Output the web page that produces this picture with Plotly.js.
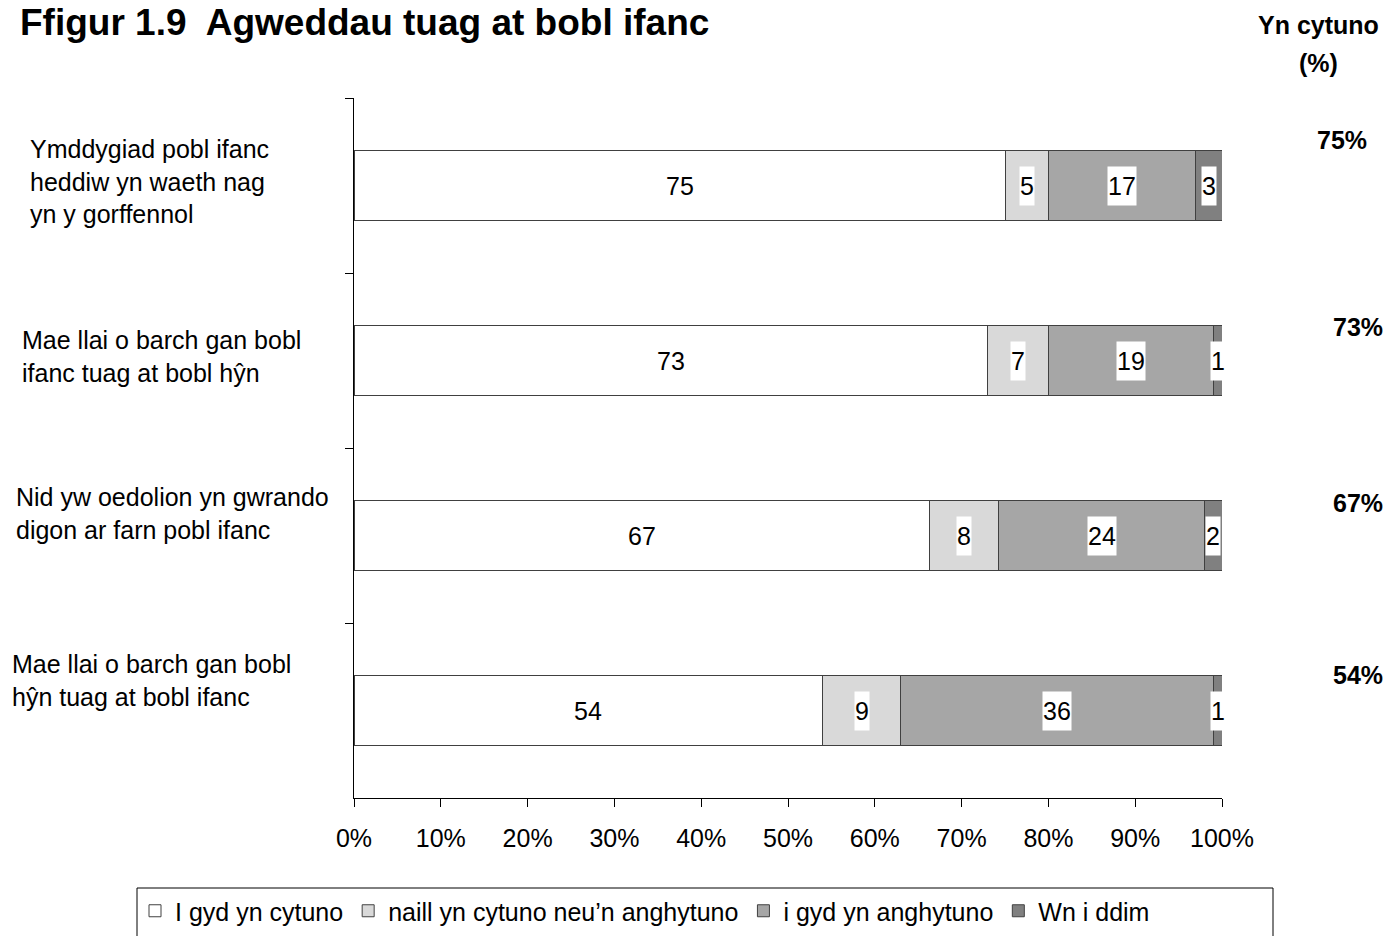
<!DOCTYPE html>
<html>
<head>
<meta charset="utf-8">
<script src="https://cdn.plot.ly/plotly-3.0.1.min.js"></script>
<style>html,body{margin:0;padding:0;background:#fff;}#chart{width:1392px;height:936px;}</style>
</head>
<body>
<div id="chart"></div>
<script>
// ---- data ----
const categories = [
  "Ymddygiad pobl ifanc<br>heddiw yn waeth nag<br>yn y gorffennol",
  "Mae llai o barch gan bobl<br>ifanc tuag at bobl hŷn",
  "Nid yw oedolion yn gwrando<br>digon ar farn pobl ifanc",
  "Mae llai o barch gan bobl<br>hŷn tuag at bobl ifanc"
];
const seriesNames = ["I gyd yn cytuno", "naill yn cytuno neu’n anghytuno", "i gyd yn anghytuno", "Wn i ddim"];
const agree    = [75, 73, 67, 54];
const neutral  = [5, 7, 8, 9];
const disagree = [17, 19, 24, 36];
const dontKnow = [3, 1, 2, 1];
const agreeLabels = ["75%", "73%", "67%", "54%"];
const xTickVals = [0,10,20,30,40,50,60,70,80,90,100];
const xTickText = ["0%","10%","20%","30%","40%","50%","60%","70%","80%","90%","100%"];

// ---- style ----
const colors = ["#ffffff", "#d9d9d9", "#a6a6a6", "#808080"];
const FONT = "Liberation Sans, Arial, sans-serif";
const W = 1392, H = 936;
const L = 354, R = 1222, T = 98, B = 798;
const px2x = p => (p - L) / (R - L);
const py2y = p => (B - p) / (B - T);

const series = [agree, neutral, disagree, dontKnow];
const traces = series.map((vals, k) => ({
  type: "bar",
  orientation: "h",
  name: seriesNames[k],
  y: categories,
  x: vals,
  width: 0.4,
  marker: {color: colors[k], line: {color: "#404040", width: 1}},
  textposition: "none",
  hoverinfo: "skip"
}));

const annotations = [];
// segment value labels (normalised to 100%)
categories.forEach((cat, i) => {
  const vals = series.map(s => s[i]);
  const total = vals.reduce((a, b) => a + b, 0);
  let cum = 0;
  vals.forEach(v => {
    annotations.push({
      xref: "x", yref: "y", x: (cum + v / 2) / total * 100, y: cat,
      text: String(v), showarrow: false,
      font: {family: FONT, size: 25, color: "#000"},
      bgcolor: "#ffffff", borderpad: 0, height: 38
    });
    cum += v;
  });
});
// category labels
const catLabelPos = [[28, 181], [20, 356], [14, 513], [10, 680]];
categories.forEach((cat, i) => {
  annotations.push({
    xref: "paper", yref: "paper", x: px2x(catLabelPos[i][0]), y: py2y(catLabelPos[i][1]),
    xanchor: "left", yanchor: "middle", align: "left",
    text: cat, showarrow: false,
    font: {family: FONT, size: 25, color: "#000"}
  });
});
// right-hand agree percentages
const agreePos = [[1342, 140], [1358, 327], [1358, 503], [1358, 675]];
agreeLabels.forEach((t, i) => {
  annotations.push({
    xref: "paper", yref: "paper", x: px2x(agreePos[i][0]), y: py2y(agreePos[i][1]),
    xanchor: "center", yanchor: "middle",
    text: "<b>" + t + "</b>", showarrow: false,
    font: {family: FONT, size: 25, color: "#000"}
  });
});
annotations.push({
  xref: "paper", yref: "paper", x: px2x(1318), y: py2y(25), xanchor: "center", yanchor: "middle",
  text: "<b>Yn cytuno</b>", showarrow: false, font: {family: FONT, size: 25, color: "#000"}
});
annotations.push({
  xref: "paper", yref: "paper", x: px2x(1318), y: py2y(63), xanchor: "center", yanchor: "middle",
  text: "<b>(%)</b>", showarrow: false, font: {family: FONT, size: 25, color: "#000"}
});

const layout = {
  width: W, height: H,
  margin: {l: L, r: W - R, t: T, b: H - B, autoexpand: false},
  paper_bgcolor: "#ffffff", plot_bgcolor: "#ffffff",
  barmode: "stack", barnorm: "percent",
  showlegend: true,
  title: {
    text: "<b>Ffigur 1.9  Agweddau tuag at bobl ifanc</b>",
    xref: "container", yref: "container", x: 20 / W, xanchor: "left", y: 1 - 22 / H, yanchor: "middle",
    font: {family: FONT, size: 37, color: "#000"}
  },
  xaxis: {
    range: [0, 100], tickvals: xTickVals, ticktext: xTickText,
    ticks: "outside", ticklen: 8, tickcolor: "#000", tickwidth: 1,
    showline: true, linecolor: "#000", linewidth: 1,
    showgrid: false, zeroline: false, ticklabelstandoff: 10,
    tickfont: {family: FONT, size: 25, color: "#000"}, fixedrange: true
  },
  yaxis: {
    type: "category", range: [3.5, -0.5],
    tickson: "boundaries", ticks: "outside", ticklen: 8, tickcolor: "#000",
    showline: true, linecolor: "#000", linewidth: 1,
    showgrid: false, zeroline: false, showticklabels: false, fixedrange: true
  },
  legend: {
    orientation: "h", traceorder: "normal",
    x: px2x(135), xanchor: "left", y: py2y(888), yanchor: "top",
    font: {family: FONT, size: 25, color: "#000"},
    bgcolor: "rgba(0,0,0,0)", borderwidth: 0
  },
  shapes: [{
    type: "rect", xref: "paper", yref: "paper",
    x0: px2x(137), x1: px2x(1273), y0: py2y(888), y1: py2y(950),
    line: {color: "#000", width: 1}, fillcolor: "rgba(0,0,0,0)"
  }],
  annotations: annotations
};

Plotly.newPlot("chart", traces, layout, {displayModeBar: false, staticPlot: true});
</script>
</body>
</html>
